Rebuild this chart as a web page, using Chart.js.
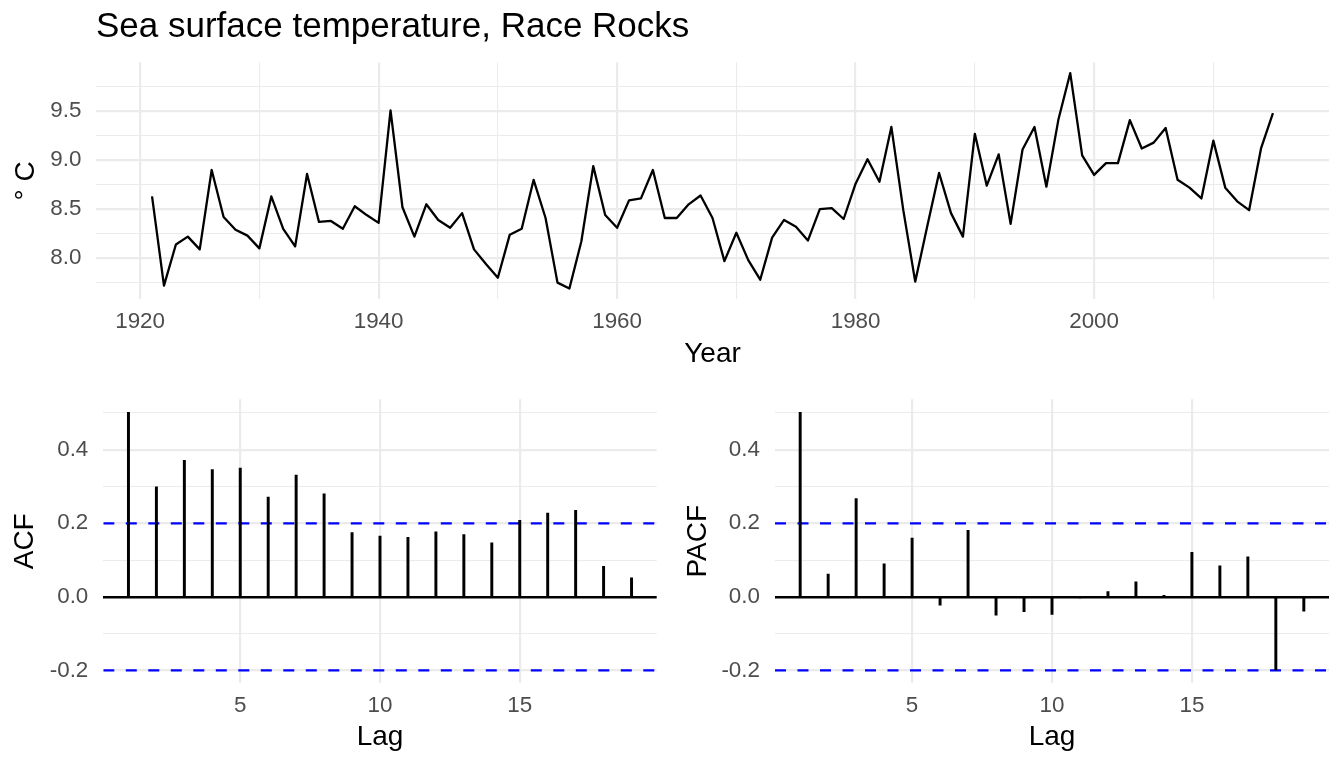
<!DOCTYPE html>
<html>
<head>
<meta charset="utf-8">
<title>Sea surface temperature, Race Rocks</title>
<script src="https://cdn.jsdelivr.net/npm/chart.js@4"></script>
<style>
    html, body { margin: 0; padding: 0; background: #fff; }
    body { width: 1344px; height: 768px; position: relative; overflow: hidden; }
    .panel { position: absolute; }
    #topBox { left: 0; top: 0; width: 1344px; height: 371px; }
    #acfBox { left: 0; top: 360px; width: 672px; height: 408px; }
    #pacfBox { left: 672px; top: 360px; width: 672px; height: 408px; }
</style>
</head>
<body>
<div class="panel" id="topBox"><canvas id="sstChart"></canvas></div>
<div class="panel" id="acfBox"><canvas id="acfChart"></canvas></div>
<div class="panel" id="pacfBox"><canvas id="pacfChart"></canvas></div>

<script>
// ===== DATA =====
const years = [
    1921, 1922, 1923, 1924, 1925, 1926, 1927, 1928, 1929, 1930,
    1931, 1932, 1933, 1934, 1935, 1936, 1937, 1938, 1939, 1940,
    1941, 1942, 1943, 1944, 1945, 1946, 1947, 1948, 1949, 1950,
    1951, 1952, 1953, 1954, 1955, 1956, 1957, 1958, 1959, 1960,
    1961, 1962, 1963, 1964, 1965, 1966, 1967, 1968, 1969, 1970,
    1971, 1972, 1973, 1974, 1975, 1976, 1977, 1978, 1979, 1980,
    1981, 1982, 1983, 1984, 1985, 1986, 1987, 1988, 1989, 1990,
    1991, 1992, 1993, 1994, 1995, 1996, 1997, 1998, 1999, 2000,
    2001, 2002, 2003, 2004, 2005, 2006, 2007, 2008, 2009, 2010,
    2011, 2012, 2013, 2014, 2015
];

// annual mean sea surface temperature (deg C)
const sst = [
    8.63, 7.72, 8.14, 8.22, 8.09, 8.90, 8.42, 8.29, 8.23, 8.10,
    8.63, 8.30, 8.12, 8.86, 8.37, 8.38, 8.30, 8.53, 8.44, 8.36,
    9.51, 8.52, 8.22, 8.55, 8.39, 8.31, 8.46, 8.09, 7.94, 7.80,
    8.24, 8.30, 8.80, 8.41, 7.75, 7.69, 8.17, 8.94, 8.44, 8.31,
    8.59, 8.61, 8.90, 8.41, 8.41, 8.55, 8.64, 8.41, 7.97, 8.26,
    7.98, 7.78, 8.21, 8.39, 8.32, 8.18, 8.50, 8.51, 8.40, 8.76,
    9.01, 8.78, 9.34, 8.49, 7.76, 8.32, 8.87, 8.46, 8.22, 9.27,
    8.74, 9.06, 8.35, 9.11, 9.34, 8.73, 9.41, 9.89, 9.05, 8.85,
    8.97, 8.97, 9.41, 9.12, 9.18, 9.33, 8.80, 8.72, 8.61, 9.20,
    8.72, 8.58, 8.49, 9.12, 9.48
];

const lags = [1, 2, 3, 4, 5, 6, 7, 8, 9, 10, 11, 12, 13, 14, 15, 16, 17, 18, 19];
const acf = [0.502, 0.299, 0.371, 0.346, 0.350, 0.271, 0.331, 0.280, 0.175, 0.165,
             0.162, 0.177, 0.169, 0.147, 0.208, 0.228, 0.235, 0.083, 0.052];
const pacf = [0.502, 0.062, 0.267, 0.090, 0.160, -0.023, 0.181, -0.050, -0.040, -0.048,
              -0.002, 0.014, 0.041, 0.004, 0.121, 0.084, 0.109, -0.199, -0.039];
const ciBound = 0.2;

// tick positions (major get labels, minor only a thin grid line)
const yearMajor = [1920, 1940, 1960, 1980, 2000];
const yearMinor = [1930, 1950, 1970, 1990, 2010];
const sstMajor = [8.0, 8.5, 9.0, 9.5];
const sstMinor = [7.75, 8.25, 8.75, 9.25, 9.75];
const lagMajor = [5, 10, 15];
const corMajor = [-0.2, 0.0, 0.2, 0.4];
const corMinor = [-0.1, 0.1, 0.3, 0.5];

// ===== STYLE =====
const FONT = "'Liberation Sans', Arial, Helvetica, sans-serif";
const GRID = '#EBEBEB';
const TICK_TXT = '#4D4D4D';
Chart.defaults.font.family = FONT;
Chart.defaults.animation = false;

// ggplot-like 5% expansion of a range
function expand(lo, hi) {
    const pad = 0.05 * (hi - lo);
    return [lo - pad, hi + pad];
}

function tickList(major, minor) {
    return major.concat(minor).sort((a, b) => a - b).map(v => ({ value: v }));
}

function gridWidth(major) {
    return (ctx) => (ctx.tick && major.includes(ctx.tick.value)) ? 2.2 : 1.1;
}

const [yearMin, yearMax] = expand(Math.min(...years), Math.max(...years));
const [sstMin, sstMax] = expand(Math.min(...sst), Math.max(...sst));
const [lagMin, lagMax] = expand(Math.min(...lags), Math.max(...lags));
const [corMin, corMax] = expand(
    Math.min(...acf, ...pacf, -ciBound),
    Math.max(...acf, ...pacf, ciBound)
);

// ===== TIME SERIES =====
new Chart(document.getElementById('sstChart'), {
    type: 'line',
    data: {
        datasets: [{
            data: years.map((yr, i) => ({ x: yr, y: sst[i] })),
            borderColor: '#000',
            borderWidth: 2.3,
            borderJoinStyle: 'round',
            pointRadius: 0,
            tension: 0
        }]
    },
    options: {
        responsive: true,
        maintainAspectRatio: false,
        layout: { padding: { left: 9.2, right: 15, top: 0, bottom: 0 } },
        plugins: {
            legend: { display: false },
            tooltip: { enabled: false },
            title: {
                display: true,
                text: 'Sea surface temperature, Race Rocks',
                align: 'start',
                fullSize: false,
                color: '#000',
                font: { size: 35, weight: 'normal', lineHeight: 1.2 },
                padding: { top: 6.5, bottom: 13.8 }
            }
        },
        scales: {
            x: {
                type: 'linear',
                min: yearMin,
                max: yearMax,
                afterBuildTicks: (s) => { s.ticks = tickList(yearMajor, yearMinor); },
                afterFit: (s) => { s.height = 71.7; },
                border: { display: false },
                grid: { color: GRID, lineWidth: gridWidth(yearMajor), drawTicks: false },
                ticks: {
                    autoSkip: false,
                    maxRotation: 0,
                    padding: 9,
                    color: TICK_TXT,
                    font: { size: 22.4, lineHeight: 1.2 },
                    callback: (v) => yearMajor.includes(v) ? String(v) : ''
                },
                title: {
                    display: true, text: 'Year', color: '#000', padding: 0,
                    font: { size: 28, lineHeight: 1.2 }
                }
            },
            y: {
                min: sstMin,
                max: sstMax,
                afterBuildTicks: (s) => { s.ticks = tickList(sstMajor, sstMinor); },
                afterFit: (s) => { s.width = 86.8; },
                border: { display: false },
                grid: { color: GRID, lineWidth: gridWidth(sstMajor), drawTicks: false },
                ticks: {
                    autoSkip: false,
                    padding: 14.5,
                    color: TICK_TXT,
                    font: { size: 22.4, lineHeight: 1.2 },
                    callback: (v) => sstMajor.includes(v) ? v.toFixed(1) : ''
                },
                title: {
                    display: true, text: '° C', color: '#000', padding: 0,
                    font: { size: 28, lineHeight: 1.2 }
                }
            }
        }
    }
});

// ===== CORRELOGRAMS =====
function correlogram(canvasId, values, yLabel, pad) {
    return new Chart(document.getElementById(canvasId), {
        type: 'bar',
        data: {
            datasets: [
                {
                    type: 'bar',
                    data: lags.map((l, i) => ({ x: l, y: values[i] })),
                    backgroundColor: '#000',
                    borderWidth: 0,
                    barThickness: 2.3
                },
                {
                    type: 'line',
                    data: [{ x: lagMin, y: ciBound }, { x: lagMax, y: ciBound }],
                    borderColor: '#0000FF',
                    borderWidth: 2.3,
                    borderDash: [11, 11.5],
                    pointRadius: 0
                },
                {
                    type: 'line',
                    data: [{ x: lagMin, y: -ciBound }, { x: lagMax, y: -ciBound }],
                    borderColor: '#0000FF',
                    borderWidth: 2.3,
                    borderDash: [11, 11.5],
                    pointRadius: 0
                }
            ]
        },
        options: {
            responsive: true,
            maintainAspectRatio: false,
            layout: { padding: pad.layout },
            plugins: {
                legend: { display: false },
                tooltip: { enabled: false }
            },
            scales: {
                x: {
                    type: 'linear',
                    offset: false,
                    min: lagMin,
                    max: lagMax,
                    afterBuildTicks: (s) => { s.ticks = lagMajor.map(v => ({ value: v })); },
                    afterFit: (s) => { s.height = 71; },
                    border: { display: false },
                    grid: { offset: false, color: GRID, lineWidth: 2.2, drawTicks: false },
                    ticks: {
                        autoSkip: false,
                        maxRotation: 0,
                        padding: 9,
                        color: TICK_TXT,
                        font: { size: 22.4, lineHeight: 1.2 }
                    },
                    title: {
                        display: true, text: 'Lag', color: '#000', padding: 0,
                        font: { size: 28, lineHeight: 1.2 }
                    }
                },
                y: {
                    min: corMin,
                    max: corMax,
                    afterBuildTicks: (s) => { s.ticks = tickList(corMajor, corMinor); },
                    afterFit: (s) => { s.width = pad.yWidth; },
                    border: { display: false },
                    grid: {
                        // zero line drawn in black, like the hline in the original
                        color: (ctx) => (ctx.tick && ctx.tick.value === 0) ? '#000' : GRID,
                        lineWidth: (ctx) => {
                            if (!ctx.tick) return 1;
                            if (ctx.tick.value === 0) return 2.4;
                            return corMajor.includes(ctx.tick.value) ? 2.2 : 1.1;
                        },
                        drawTicks: false
                    },
                    ticks: {
                        autoSkip: false,
                        padding: 15,
                        color: TICK_TXT,
                        font: { size: 22.4, lineHeight: 1.2 },
                        callback: (v) => corMajor.includes(v) ? v.toFixed(1) : ''
                    },
                    title: {
                        display: true, text: yLabel, color: '#000', padding: 0,
                        font: { size: 28, lineHeight: 1.2 }
                    }
                }
            }
        }
    });
}

correlogram('acfChart', acf, 'ACF', {
    layout: { left: 8.7, right: 15.3, top: 39.3, bottom: 13.7 },
    yWidth: 94.6
});
correlogram('pacfChart', pacf, 'PACF', {
    layout: { left: 9.5, right: 15, top: 39.3, bottom: 13.7 },
    yWidth: 93.5
});
</script>
</body>
</html>
